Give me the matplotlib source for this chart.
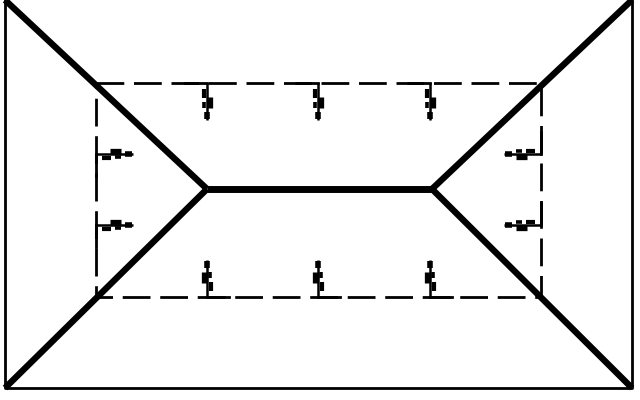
import matplotlib
matplotlib.use('Agg')
import matplotlib.pyplot as plt
import numpy as np

# plan of a hip roof, drawn in pixel units (y down)
outer_x = [5, 5, 632, 632]
outer_y = [0, 388, 388, 0]

ridge_x = [207, 432]
ridge_y = [189, 189]

# hip lines: corner -> ridge end
hips = [((5, 0), (207, 189)), ((5, 388), (207, 189)),
        ((632, 0), (432, 189)), ((632, 388), (432, 189))]

dash_x = [96, 541]
dash_y = [83, 297]

# little walking figures on the dashed line
top_x = [207, 318, 430]
bottom_x = [207, 318, 430]
left_y = [154, 225]
right_y = [154, 225]
fig_len = 37


def person(ax, x0, y0, dx, dy):
    # stem from the dashed line inward, with a small figure at the tip
    px, py = -dy, dx
    ax.plot([x0, x0 + dx * fig_len], [y0, y0 + dy * fig_len], color='black', lw=1.8,
            solid_capstyle='butt')
    parts = [(29, 36, 0, 4.0), (14, 25, -3, 3.8), (6, 15, 3.5, 3.0), (19, 25, 3, 2.6)]
    for u0, u1, off, w in parts:
        ax.plot([x0 + dx * u0 + px * off, x0 + dx * u1 + px * off],
                [y0 + dy * u0 + py * off, y0 + dy * u1 + py * off],
                color='black', lw=w, solid_capstyle='butt')
    # short leg along the dashed line
    ax.plot([x0, x0 + px * 22], [y0, y0 + py * 22], color='black', lw=2.0)


fig = plt.figure(figsize=(6.4, 4), dpi=100)
ax = fig.add_axes([0, 0, 1, 1])
ax.set_xlim(0, 640)
ax.set_ylim(400, 0)
ax.axis('off')

ax.plot(outer_x, outer_y, color='black', lw=2.0)
for (xa, ya), (xb, yb) in hips:
    ax.plot([xa, xb], [ya, yb], color='black', lw=4.6, solid_capstyle='butt')
ax.plot(ridge_x, ridge_y, color='black', lw=5.0, solid_capstyle='butt')

ax.plot([dash_x[0], dash_x[1], dash_x[1], dash_x[0], dash_x[0]],
        [dash_y[0], dash_y[0], dash_y[1], dash_y[1], dash_y[0]],
        color='black', lw=2.0, dashes=(10, 3.5))

for x in top_x:
    person(ax, x, dash_y[0], 0, 1)
for x in bottom_x:
    person(ax, x, dash_y[1], 0, -1)
for y in left_y:
    person(ax, dash_x[0], y, 1, 0)
for y in right_y:
    person(ax, dash_x[1], y, -1, 0)

fig.savefig('out.png', dpi=100, facecolor='white')
